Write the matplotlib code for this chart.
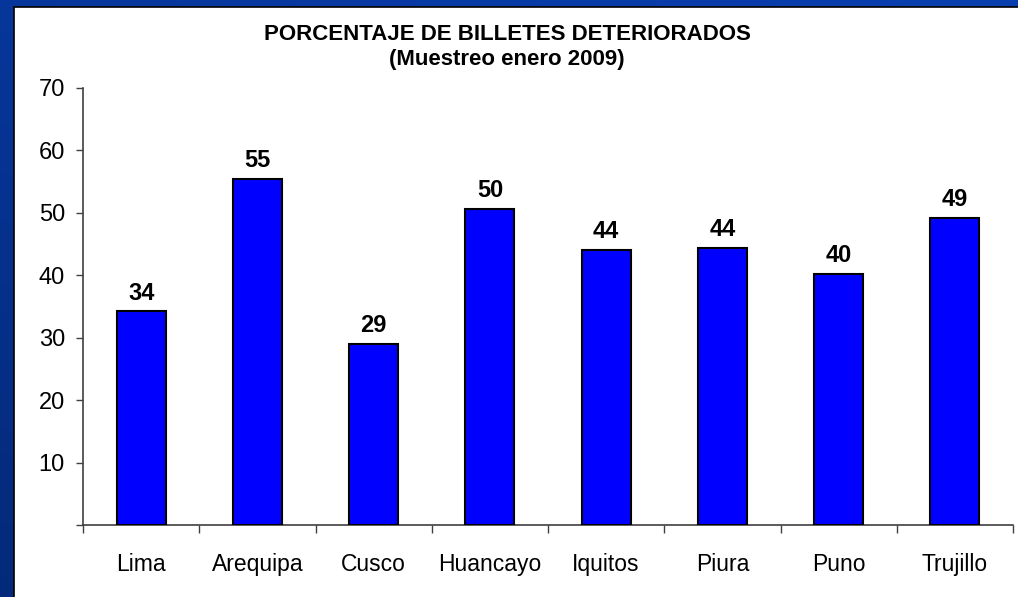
import numpy as np
import matplotlib
matplotlib.use("Agg")
import matplotlib.pyplot as plt
from matplotlib.patches import Rectangle
from matplotlib.colors import LinearSegmentedColormap

categories = ["Lima", "Arequipa", "Cusco", "Huancayo", "Iquitos", "Piura", "Puno", "Trujillo"]
values = [34.2, 55.4, 29.0, 50.6, 44.1, 44.4, 40.2, 49.2]
labels = ["34", "55", "29", "50", "44", "44", "40", "49"]
yticks = [10, 20, 30, 40, 50, 60, 70]

plt.rcParams['font.family'] = ['Liberation Sans', 'DejaVu Sans']

W, H = 1018, 597
fig = plt.figure(figsize=(W / 100, H / 100), dpi=100)

# background gradient (blue slide)
bg = fig.add_axes([0, 0, 1, 1], zorder=-10)
gy, gx = np.mgrid[0:1:200j, 0:1:200j]
grad = 0.6 * gy + 0.4 * (1 - gx)
cmap = LinearSegmentedColormap.from_list("b", ["#0a3fb0", "#032a7a"])
bg.imshow(grad, cmap=cmap, aspect='auto', extent=[0, 1, 0, 1], origin='upper')
bg.set_xlim(0, 1)
bg.set_ylim(0, 1)
bg.axis('off')
bg.add_patch(Rectangle((14 / W, -0.01), 1.01 - 14 / W, (H - 7) / H + 0.01,
                       facecolor='white', edgecolor='black', linewidth=1.2,
                       transform=bg.transAxes))

ax = fig.add_axes([83 / W, (H - 525) / H, (1013 - 83) / W, (525 - 88) / H])
ax.set_facecolor('none')
x = np.arange(len(categories))
bars = ax.bar(x, values, width=0.42, color='#0000FF', edgecolor='black', linewidth=1.5, zorder=3)
for xi, v, lab in zip(x, values, labels):
    ax.annotate(lab, (xi, v), xytext=(0, 5), textcoords='offset points',
                ha='center', va='bottom', fontsize=17, fontweight='bold', color='black')

ax.set_xlim(-0.5, len(categories) - 0.5)
ax.set_ylim(0, 70)
ax.set_yticks([0] + yticks)
ax.set_yticklabels([""] + [str(t) for t in yticks], fontsize=17)
ax.set_xticks(np.arange(len(categories) + 1) - 0.5)
ax.set_xticklabels([])
ax.set_xticks(x, minor=True)
ax.set_xticklabels(categories, minor=True, fontsize=16.5)
ax.tick_params(axis='x', which='minor', length=0, pad=20)
ax.tick_params(axis='x', which='major', length=6, width=1, color='#404040')
ax.tick_params(axis='y', length=5, width=1, color='#404040', pad=8)
for s in ['top', 'right']:
    ax.spines[s].set_visible(False)
for s in ['left', 'bottom']:
    ax.spines[s].set_color('#404040')
    ax.spines[s].set_linewidth(1.2)

fig.text(507 / W, 1 - 34 / H, "PORCENTAJE DE BILLETES DETERIORADOS", ha='center', va='center',
         fontsize=16, fontweight='bold')
fig.text(507 / W, 1 - 60 / H, "(Muestreo enero 2009)", ha='center', va='center',
         fontsize=16, fontweight='bold')

fig.savefig("out.png", dpi=100)
